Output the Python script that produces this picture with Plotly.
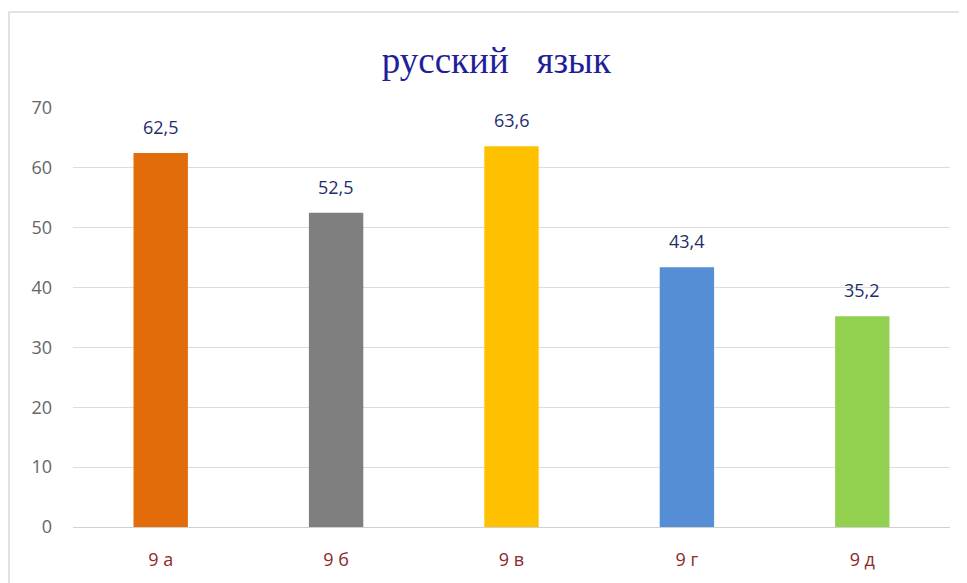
import plotly.graph_objects as go

categories = ["9 а", "9 б", "9 в", "9 г", "9 д"]
values = [62.5, 52.5, 63.6, 43.4, 35.2]
colors = ["#E36C0A", "#7F7F7F", "#FFC000", "#558ED5", "#92D050"]
y_ticks = [0, 10, 20, 30, 40, 50, 60, 70]

labels = [f"{v:.1f}".replace(".", ",") for v in values]

fig = go.Figure(go.Bar(
    x=categories, y=values, marker=dict(color=colors, line=dict(width=0)),
    width=0.31, hoverinfo="skip",
))

for c, v, t in zip(categories, values, labels):
    fig.add_annotation(x=c, y=v, text=t, showarrow=False, yshift=26,
                       font=dict(family="Open Sans, sans-serif", size=18, color="#1F2D6B"))

fig.add_shape(type="rect", xref="paper", yref="paper", x0=-0.073, x1=1.05,
              y0=-0.2, y1=1.229, line=dict(color="#D9D9D9", width=1.5), layer="below")

fig.update_layout(
    width=967, height=583,
    margin=dict(l=65, r=25, t=100, b=64),
    paper_bgcolor="white", plot_bgcolor="white",
    showlegend=False,
    title=dict(text="русский   язык", x=0.505, xanchor="center", y=0.911, yanchor="middle",
               font=dict(family="Liberation Serif, Times New Roman, serif", size=37, color="#1F1F9A")),
    xaxis=dict(showgrid=False, showline=True, linecolor="#D0D0D0", ticks="",
               tickfont=dict(family="Open Sans, sans-serif", size=18, color="#8B2A2A"),
               ticklabelstandoff=16),
    yaxis=dict(range=[0, 70], tickvals=y_ticks, showgrid=True, gridcolor="#DCDCDC",
               zeroline=False, showline=False, ticks="",
               tickfont=dict(family="Open Sans, sans-serif", size=18, color="#666666"),
               ticklabelstandoff=20),
)

fig.write_html("out.html")
